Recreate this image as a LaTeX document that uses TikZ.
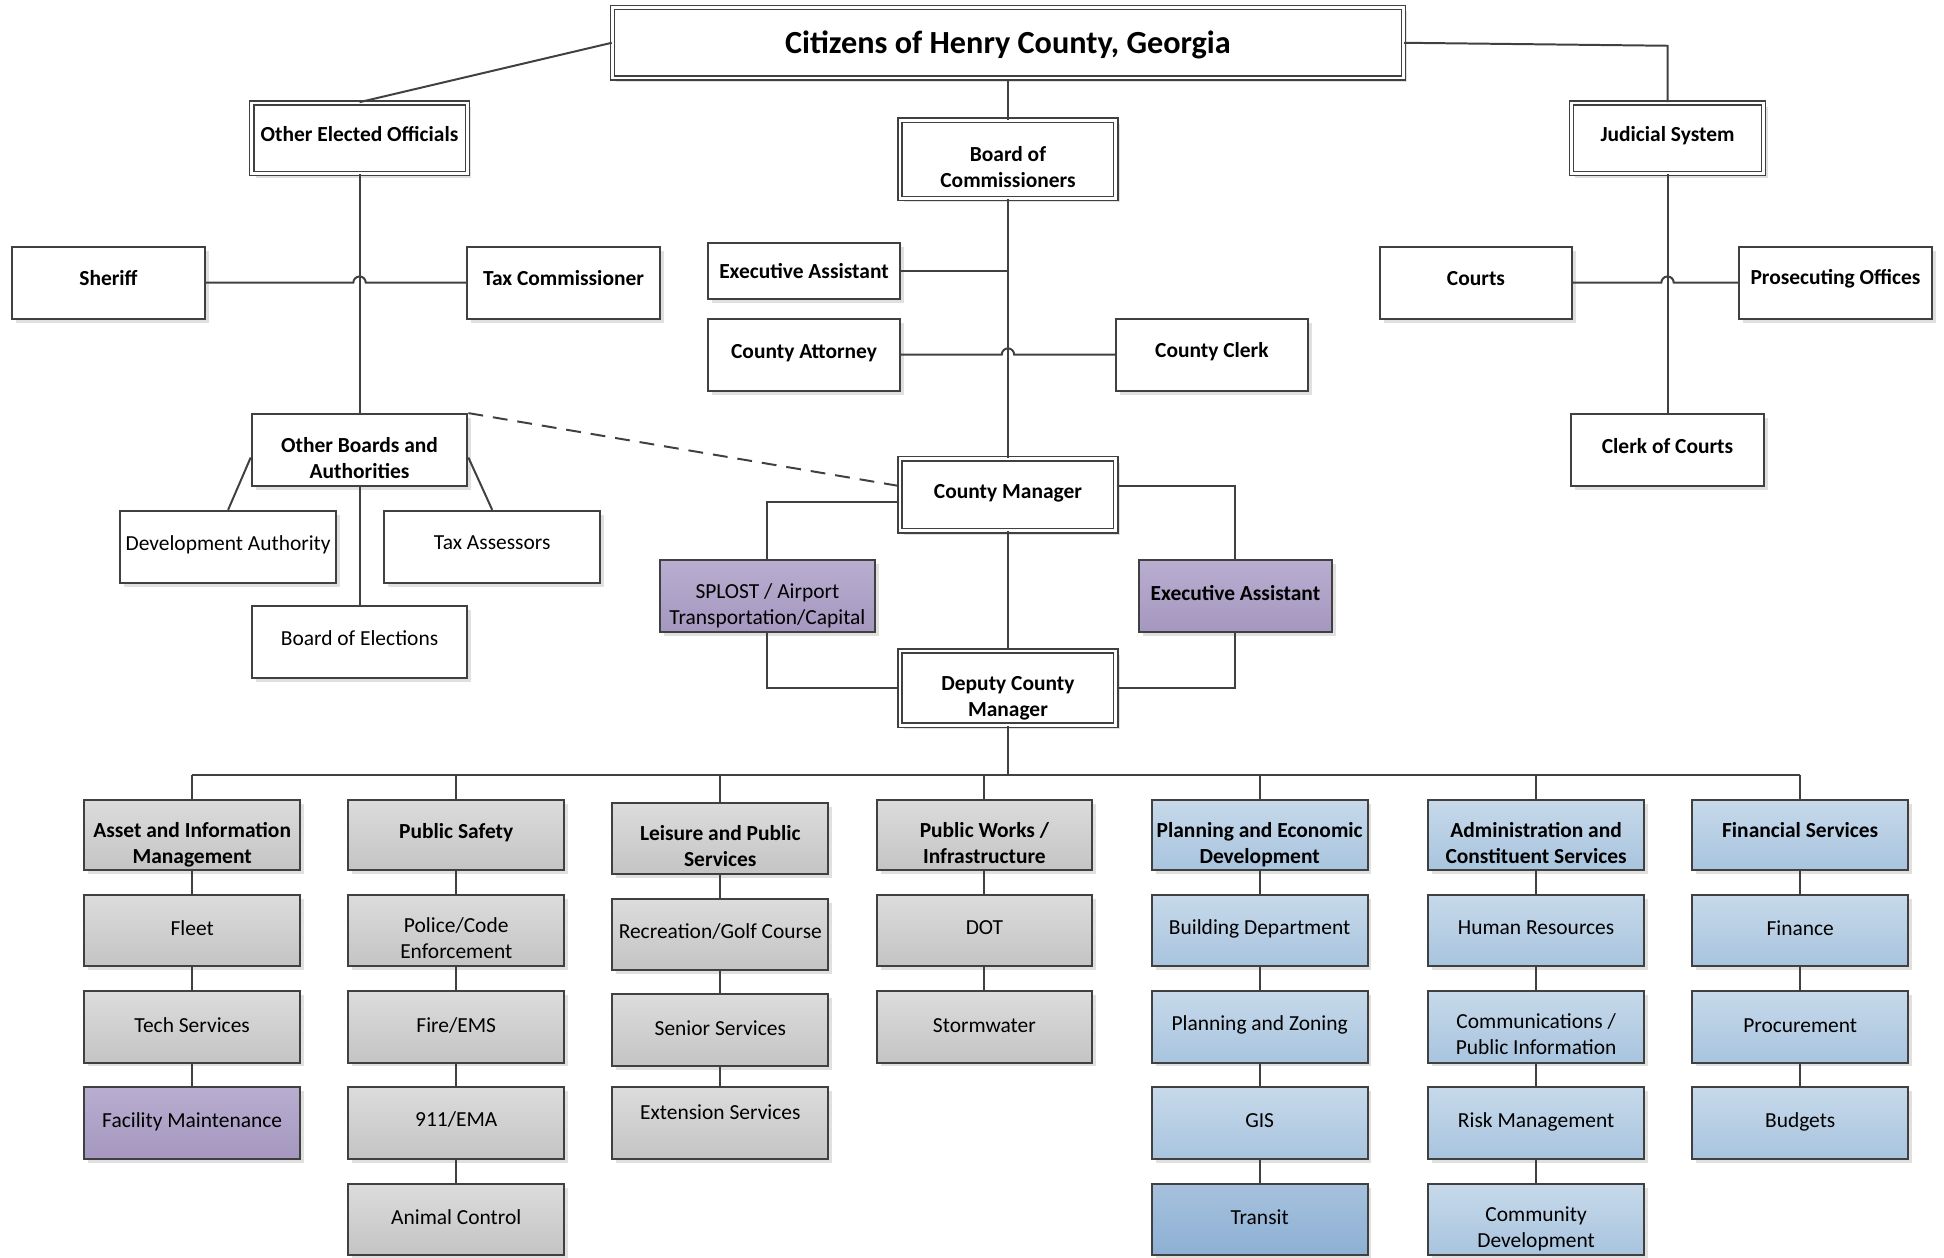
\documentclass[tikz,border=0pt]{standalone}
\usepackage{fontspec}
\setmainfont{Carlito}
\usetikzlibrary{shadows}
\definecolor{ln}{HTML}{404040}
\definecolor{grT}{HTML}{DCDCDC}
\definecolor{grB}{HTML}{C4C4C4}
\definecolor{puT}{HTML}{B8AED0}
\definecolor{puB}{HTML}{A597BF}
\definecolor{blT}{HTML}{C7D9EA}
\definecolor{blB}{HTML}{A8C4DE}
\definecolor{bdT}{HTML}{A6C1DD}
\definecolor{bdB}{HTML}{8DB0D4}
% text placement helpers (Visio-like text positions)
\newcommand\up[2][1pt]{\raisebox{#1}[\height][\depth]{#2}}
\newcommand\dn[2]{\raisebox{-4pt}[\height][\depth]{\begin{tabular}{@{}c@{}}#1\\#2\end{tabular}}}
\tikzset{
  box/.style={draw=ln, line width=0.8pt, fill=white, align=center, inner sep=1pt,
    minimum width=87pt, minimum height=29pt, font=\fontsize{8.65}{10.5}\selectfont,
    drop shadow={shadow xshift=1.6pt, shadow yshift=-1.6pt, fill=black, opacity=0.12}},
  narrow/.style={minimum width=77.5pt},
  bbox/.style={box, font=\fontsize{8.65}{10.5}\selectfont\bfseries},
  dbox/.style={bbox, double=white, double distance=1.1pt, line width=0.6pt},
  gray/.style={top color=grT, bottom color=grB},
  purple/.style={top color=puT, bottom color=puB},
  blue/.style={top color=blT, bottom color=blB},
  dblue/.style={top color=bdT, bottom color=bdB},
  conn/.style={draw=ln, line width=0.8pt},
}
\begin{document}
\begin{tikzpicture}[x=0.5pt,y=0.5pt]
\useasboundingbox (0,0) rectangle (1568,-1014);
% top level
\node[dbox, minimum width=319pt, minimum height=28.5pt, font=\fontsize{13}{15}\selectfont\bfseries] (title) at (813,-34.5) {\up[-0.8pt]{Citizens of Henry County, Georgia}};
\node[dbox, minimum height=28.5pt] (oeo) at (290,-111.5) {\up[1.5pt]{Other Elected Officials}};
\node[dbox, minimum height=31.5pt] (boc) at (813,-128.5) {\dn{Board of}{Commissioners}};
\node[dbox, narrow, minimum height=28.5pt] (jud) at (1345,-111.5) {\up[1.2pt]{Judicial System}};
% left branch
\node[bbox, narrow] (sheriff) at (87.5,-228) {\up[2pt]{Sheriff}};
\node[bbox, narrow] (taxc) at (454.5,-228) {\up[2pt]{Tax Commissioner}};
\node[bbox] (oba) at (290,-363) {\dn{Other Boards and}{Authorities}};
\node[box] (dev) at (184,-441) {\up{Development Authority}};
\node[box] (taxa) at (397,-441) {\up[1.5pt]{Tax Assessors}};
\node[box] (boe) at (290,-518) {\up[1.5pt]{Board of Elections}};
% center branch
\node[bbox, narrow, minimum height=22.5pt] (ea1) at (648.5,-218.5) {Executive Assistant};
\node[bbox, narrow] (catt) at (648.5,-286) {\up[0.7pt]{County Attorney}};
\node[bbox, narrow] (cclerk) at (977.5,-286) {\up{County Clerk}};
\node[dbox] (cm) at (813,-399) {\up[0.7pt]{County Manager}};
\node[box, purple] (splost) at (619,-481) {\dn{SPLOST / Airport}{Transportation/Capital}};
\node[bbox, narrow, purple] (ea2) at (996.5,-481) {\up[1.5pt]{Executive Assistant}};
\node[dbox, minimum height=30pt] (dcm) at (813,-555) {\dn{Deputy County}{Manager}};
% right branch
\node[bbox, narrow] (courts) at (1190.5,-228) {\up[1.5pt]{Courts}};
\node[bbox, narrow] (pros) at (1480.5,-228) {\up[1.5pt]{Prosecuting Offices}};
\node[bbox, narrow] (clerkc) at (1345,-363) {\up[1.5pt]{Clerk of Courts}};
% bottom columns
\node[bbox, gray, minimum height=28.5pt] (h1) at (155,-673.5) {\dn{Asset and Information}{Management}};
\node[box, gray, minimum height=28.5pt] (a1) at (155,-750.5) {\up{Fleet}};
\node[box, gray] (a2) at (155,-828) {\up[0.5pt]{Tech Services}};
\node[box, purple] (a3) at (155,-906) {\up[0.5pt]{Facility Maintenance}};

\node[bbox, gray, minimum height=28.5pt] (h2) at (368,-673.5) {\up{Public Safety}};
\node[box, gray, minimum height=28.5pt] (b1) at (368,-750.5) {\dn{Police/Code}{Enforcement}};
\node[box, gray] (b2) at (368,-828) {\up[0.5pt]{Fire/EMS}};
\node[box, gray] (b3) at (368,-906) {\up[1.5pt]{911/EMA}};
\node[box, gray, minimum height=28.5pt] (b4) at (368,-983.5) {\up{Animal Control}};

\node[bbox, gray, minimum height=28.5pt] (h3) at (581,-676.5) {\dn{Leisure and Public}{Services}};
\node[box, gray, minimum height=28.5pt] (c1) at (581,-753.5) {\up{Recreation/Golf Course}};
\node[box, gray] (c2) at (581,-831) {\up{Senior Services}};
\node[box, gray] (c3) at (581,-906) {\up[4.5pt]{Extension Services}};

\node[bbox, gray, minimum height=28.5pt] (h4) at (794,-673.5) {\dn{Public Works /}{Infrastructure}};
\node[box, gray, minimum height=28.5pt] (d1) at (794,-750.5) {\up{DOT}};
\node[box, gray] (d2) at (794,-828) {\up[0.5pt]{Stormwater}};

\node[bbox, blue, minimum height=28.5pt] (h5) at (1016,-673.5) {\dn{Planning and Economic}{Development}};
\node[box, blue, minimum height=28.5pt] (e1) at (1016,-750.5) {\up[0.7pt]{Building Department}};
\node[box, blue] (e2) at (1016,-828) {\up[0.5pt]{Planning and Zoning}};
\node[box, blue] (e3) at (1016,-906) {\up{GIS}};
\node[box, dblue, minimum height=28.5pt] (e4) at (1016,-983.5) {\up{Transit}};

\node[bbox, blue, minimum height=28.5pt] (h6) at (1239,-673.5) {\dn{Administration and}{Constituent Services}};
\node[box, blue, minimum height=28.5pt] (f1) at (1239,-750.5) {\up{Human Resources}};
\node[box, blue] (f2) at (1239,-828) {\dn{Communications /}{Public Information}};
\node[box, blue] (f3) at (1239,-906) {\up[0.5pt]{Risk Management}};
\node[box, blue, minimum height=28.5pt] (f4) at (1239,-983.5) {\dn{Community}{Development}};

\node[bbox, blue, minimum height=28.5pt] (h7) at (1452,-673.5) {\up[2pt]{Financial Services}};
\node[box, blue, minimum height=28.5pt] (g1) at (1452,-750.5) {\up{Finance}};
\node[box, blue] (g2) at (1452,-828) {\up[0.5pt]{Procurement}};
\node[box, blue] (g3) at (1452,-906) {\up[0.5pt]{Budgets}};

\coordinate (bus) at (813,-625);

% connectors top
\draw[conn] (title.west) -- (oeo.north);
\draw[conn] (title.south) -- (boc.north);
\draw[conn] (title.east) -- ([yshift=-1.2pt]jud.north |- title.east) -- (jud.north);
% left
\draw[conn] (oeo.south) -- (oba.north);
\draw[conn] (sheriff.east) -- ([xshift=-2.5pt]sheriff.east -| oeo.south) arc[start angle=180, end angle=0, radius=2.5pt] -- (taxc.west);
\draw[conn] ([yshift=-3pt]oba.west) -- (dev.north);
\draw[conn] ([yshift=-3pt]oba.east) -- (taxa.north);
\draw[conn] (oba.south) -- (boe.north);
\draw[conn, dash pattern=on 6pt off 4pt] (oba.north east) -- ([yshift=3.5pt]cm.west);
% center
\draw[conn] (boc.south) -- (cm.north);
\draw[conn] (ea1.east) -- (ea1.east -| boc.south);
\draw[conn] (catt.east) -- ([xshift=-2.5pt]catt.east -| boc.south) arc[start angle=180, end angle=0, radius=2.5pt] -- (cclerk.west);
\draw[conn] ([yshift=-3pt]cm.west) -| (splost.north);
\draw[conn] ([yshift=3.5pt]cm.east) -| (ea2.north);
\draw[conn] (cm.south) -- (dcm.north);
\draw[conn] (splost.south) |- (dcm.west);
\draw[conn] (ea2.south) |- (dcm.east);
% right
\draw[conn] (jud.south) -- (clerkc.north);
\draw[conn] (courts.east) -- ([xshift=-2.5pt]courts.east -| jud.south) arc[start angle=180, end angle=0, radius=2.5pt] -- (pros.west);
% bus
\draw[conn] (dcm.south) -- (bus);
\draw[conn] (h1.north |- bus) -- (h7.north |- bus);
\foreach \h in {h1,h2,h3,h4,h5,h6,h7} { \draw[conn] (\h.north |- bus) -- (\h.north); }
\draw[conn] (h1) -- (a1) -- (a2) -- (a3);
\draw[conn] (h2) -- (b1) -- (b2) -- (b3) -- (b4);
\draw[conn] (h3) -- (c1) -- (c2) -- (c3);
\draw[conn] (h4) -- (d1) -- (d2);
\draw[conn] (h5) -- (e1) -- (e2) -- (e3) -- (e4);
\draw[conn] (h6) -- (f1) -- (f2) -- (f3) -- (f4);
\draw[conn] (h7) -- (g1) -- (g2) -- (g3);
\end{tikzpicture}
\end{document}
